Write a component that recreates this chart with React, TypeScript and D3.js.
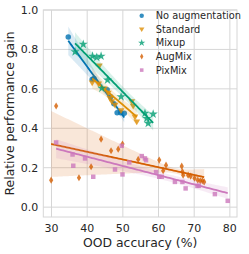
import React from 'react';
import * as d3 from 'd3';

const W = 249, H = 254;
const margin = { left: 43.3, right: 12, top: 10, bottom: 37 };

const seriesNames = ['No augmentation', 'Standard', 'Mixup', 'AugMix', 'PixMix'];
const seriesColors = ['#0173b2', '#de8f05', '#029e73', '#d55e00', '#cc78bc'];
const seriesMarkers = ['circle', 'triangleDown', 'star', 'thinDiamond', 'square'];

const noAugX = [34.7, 41.4, 41.9, 45.6, 46.6, 47.5, 48.4, 49.4, 50.4];
const noAugY = [0.863, 0.648, 0.652, 0.595, 0.56, 0.525, 0.479, 0.479, 0.476];

const standardX = [41.4, 43.2, 43.4, 44.8, 45.9, 46.4, 46.9, 47.8, 49.5, 52.5, 52.9, 53.4, 53.9];
const standardY = [0.63, 0.625, 0.716, 0.6, 0.578, 0.552, 0.535, 0.518, 0.49, 0.535, 0.513, 0.458, 0.433];

const mixupX = [36.6, 38.9, 41.5, 42.7, 43.9, 44.1, 45.7, 49.5, 56.2, 56.7, 57.1, 58.5];
const mixupY = [0.788, 0.826, 0.766, 0.76, 0.766, 0.603, 0.645, 0.56, 0.476, 0.45, 0.425, 0.472];

const augmixX = [29.9, 31.3, 37.7, 41.1, 43.9, 46.7, 48.7, 49.9, 54.3, 60.2, 61.3, 62.1, 66.5, 66.7, 66.9, 68.3, 69.0, 70.1, 71.0, 71.7, 72.3, 72.8];
const augmixY = [0.137, 0.513, 0.149, 0.205, 0.345, 0.286, 0.294, 0.32, 0.242, 0.239, 0.185, 0.213, 0.208, 0.18, 0.162, 0.162, 0.157, 0.147, 0.137, 0.134, 0.134, 0.128];

const pixmixX = [31.3, 35.9, 36.1, 39.4, 41.7, 47.8, 49.7, 49.9, 51.8, 55.3, 56.2, 56.5, 59.3, 60.2, 60.9, 64.6, 66.7, 67.6, 70.9, 71.3, 75.8, 79.4];
const pixmixY = [0.328, 0.267, 0.21, 0.247, 0.154, 0.191, 0.311, 0.166, 0.227, 0.259, 0.247, 0.238, 0.178, 0.154, 0.154, 0.128, 0.128, 0.095, 0.108, 0.108, 0.066, 0.032];

const xTicks = [30, 40, 50, 60, 70, 80];
const yTicks = [0.0, 0.2, 0.4, 0.6, 0.8, 1.0];

const allX = [noAugX, standardX, mixupX, augmixX, pixmixX];
const allY = [noAugY, standardY, mixupY, augmixY, pixmixY];

const FONT = 'DejaVu Sans, sans-serif';
const TXT = '#262626';
const GRID = '#d6d6d6';

function ols(xs: number[], ys: number[]) {
  const mx = d3.mean(xs)!, my = d3.mean(ys)!;
  let sxx = 0, sxy = 0;
  xs.forEach((x, i) => { sxx += (x - mx) ** 2; sxy += (x - mx) * (ys[i] - my); });
  const b = sxy / sxx;
  return { a: my - b * mx, b };
}

// fit line plus a jackknife 95% band (outliers widen it, like the bootstrap)
function fit(xs: number[], ys: number[]) {
  const n = xs.length;
  const full = ols(xs, ys);
  const loo = xs.map((_, k) => ols(xs.filter((_, i) => i !== k), ys.filter((_, i) => i !== k)));
  const [x0, x1] = d3.extent(xs) as [number, number];
  const grid = d3.range(0, 101).map(i => x0 + (x1 - x0) * i / 100);
  return grid.map(x => {
    const yh = full.a + full.b * x;
    const preds = loo.map(f => f.a + f.b * x);
    const pm = d3.mean(preds)!;
    const se = Math.sqrt((n - 1) / n * d3.sum(preds, p => (p - pm) ** 2));
    return { x, y: yh, lo: yh - 2 * se, hi: yh + 2 * se };
  });
}

function markerPath(kind: string, big: boolean) {
  const k = big ? 1 : 0.8;
  if (kind === 'circle') return d3.symbol().type(d3.symbolCircle).size(24 * k * k)()!;
  if (kind === 'square') return d3.symbol().type(d3.symbolSquare).size(20 * k * k)()!;
  if (kind === 'star') return d3.symbol().type(d3.symbolStar).size(26 * k * k)()!;
  if (kind === 'triangleDown') {
    const r = 3.4 * k;
    return `M${-r},${-r * 0.7}L${r},${-r * 0.7}L0,${r * 1.0}Z`;
  }
  const w = 2.1 * k, h = 3.6 * k;
  return `M0,${-h}L${w},0L0,${h}L${-w},0Z`;
}

export default function App() {
  const x = d3.scaleLinear().domain([27.7, 82]).range([margin.left, W - margin.right]);
  const y = d3.scaleLinear().domain([-0.05, 1.0]).range([H - margin.bottom, margin.top]);
  const area = d3.area<{ x: number; lo: number; hi: number }>()
    .x(d => x(d.x)).y0(d => y(d.lo)).y1(d => y(d.hi));
  const line = d3.line<{ x: number; y: number }>().x(d => x(d.x)).y(d => y(d.y));
  const [r0, r1] = x.range();
  const [b0, t0] = y.range();

  return (
    <svg width={W} height={H} style={{ position: 'absolute', left: 0, top: 0 }}>
      <rect width={W} height={H} fill="#fff" />
      {xTicks.map(t => (
        <line key={'gx' + t} x1={x(t)} x2={x(t)} y1={t0} y2={b0} stroke={GRID} strokeWidth={1} />
      ))}
      {yTicks.map(t => (
        <line key={'gy' + t} x1={r0} x2={r1} y1={y(t)} y2={y(t)} stroke={GRID} strokeWidth={1} />
      ))}
      <rect x={r0} y={t0} width={r1 - r0} height={b0 - t0} fill="none" stroke={GRID} strokeWidth={1} />

      {seriesNames.map((name, si) => {
        const xs = allX[si], ys = allY[si];
        const band = fit(xs, ys);
        const c = seriesColors[si];
        return (
          <g key={name}>
            {xs.map((v, i) => (
              <path key={i} d={markerPath(seriesMarkers[si], true)}
                transform={`translate(${x(v)},${y(ys[i])})`} fill={c} fillOpacity={0.8} />
            ))}
            <path d={area(band)!} fill={c} fillOpacity={0.15} />
            <path d={line(band)!} fill="none" stroke={c} strokeWidth={1.8} />
          </g>
        );
      })}

      {xTicks.map(t => (
        <text key={'tx' + t} x={x(t)} y={b0 + 15} textAnchor="middle" fontFamily={FONT} fontSize={11} fill={TXT}>{t}</text>
      ))}
      {yTicks.map(t => (
        <text key={'ty' + t} x={r0 - 5} y={y(t)} dy="0.35em" textAnchor="end" fontFamily={FONT} fontSize={11} fill={TXT}>{t.toFixed(1)}</text>
      ))}
      <text x={(r0 + r1) / 2} y={247} textAnchor="middle" fontFamily={FONT} fontSize={12.4} fill={TXT}>OOD accuracy (%)</text>
      <text transform={`translate(14,${(t0 + b0) / 2}) rotate(-90)`} textAnchor="middle" fontFamily={FONT} fontSize={12.4} fill={TXT}>Relative performance gain</text>

      <g>
        {seriesNames.map((name, si) => (
          <g key={'lg' + name} transform={`translate(141.7,${15.7 + si * 13.6})`}>
            <path d={markerPath(seriesMarkers[si], false)} fill={seriesColors[si]} fillOpacity={0.8} />
            <text x={14} dy="0.35em" fontFamily={FONT} fontSize={9.8} fill={TXT}>{name}</text>
          </g>
        ))}
      </g>
    </svg>
  );
}
